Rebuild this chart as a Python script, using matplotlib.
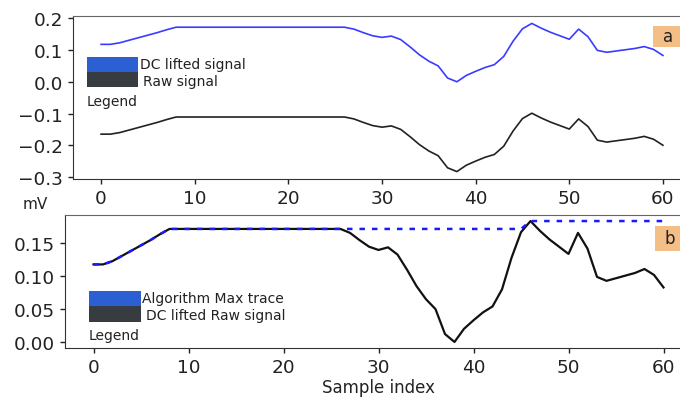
import matplotlib.pyplot as plt
from matplotlib.patches import Rectangle
import numpy as np

# sample index 0..60
sample_index = np.arange(61)

# DC lifted signal (mV)
dc_lifted = np.array([
    0.118, 0.118, 0.123, 0.131, 0.139, 0.147, 0.155, 0.164, 0.172, 0.172,
    0.172, 0.172, 0.172, 0.172, 0.172, 0.172, 0.172, 0.172, 0.172, 0.172,
    0.172, 0.172, 0.172, 0.172, 0.172, 0.172, 0.172, 0.166, 0.155, 0.145,
    0.140, 0.144, 0.133, 0.110, 0.085, 0.065, 0.050, 0.012, 0.000, 0.020,
    0.033, 0.045, 0.054, 0.080, 0.128, 0.167, 0.184, 0.169, 0.156, 0.145,
    0.134, 0.166, 0.142, 0.099, 0.093, 0.097, 0.101, 0.105, 0.111, 0.102,
    0.083,
])
dc_offset = 0.283
raw_signal = dc_lifted - dc_offset
# max trace of the algorithm
max_trace = np.maximum.accumulate(dc_lifted)

top_legend = ["DC lifted signal", "Raw signal"]
bottom_legend = ["Algorithm Max trace", "DC lifted Raw signal"]

W, H = 680, 402
fig = plt.figure(figsize=(W / 100, H / 100), dpi=100)


def px_axes(left, top, right, bottom):
    return fig.add_axes([left / W, 1 - bottom / H, (right - left) / W, (bottom - top) / H])


def style(ax):
    ax.tick_params(labelsize=13.3, length=3.5, width=1, colors="#222222")
    for s in ["top", "left", "bottom"]:
        ax.spines[s].set_color("#333333")
    ax.spines["top"].set_color("#666666")
    ax.spines["right"].set_visible(False)
    ax.set_xticks([0, 10, 20, 30, 40, 50, 60])


# ---- panel a
ax1 = px_axes(73, 17, 691, 180)
ax1.plot(sample_index, dc_lifted, color="#3b3bff", lw=1.2)
ax1.plot(sample_index, raw_signal, color="#222222", lw=1.2)
ax1.set_yticks([0.2, 0.1, 0.0, -0.1, -0.2, -0.3])
style(ax1)

# ---- panel b
ax2 = px_axes(65, 216, 692, 349)
ax2.plot(sample_index, dc_lifted, color="#111111", lw=1.6)
ax2.plot(sample_index, max_trace, color="#1a1aff", lw=1.8, ls=(0, (2.2, 2.8)))
ax2.set_yticks([0.0, 0.05, 0.10, 0.15])
ax2.set_yticklabels(["0.00", "0.05", "0.10", "0.15"])
ax2.set_xlabel("Sample index", fontsize=12, color="#222222", labelpad=2)
style(ax2)

fig.text(35 / W, 1 - 205 / H, "mV", fontsize=11, ha="center", va="center", color="#222222")


# ---- hand made legends
def legend_block(x0, y0, x1, ymid, y1, labels, txt_x, txt_y, leg_y):
    fig.add_artist(Rectangle((x0 / W, 1 - ymid / H), (x1 - x0) / W, (ymid - y0) / H,
                             transform=fig.transFigure, facecolor="#2b5fd2", edgecolor="none"))
    fig.add_artist(Rectangle((x0 / W, 1 - y1 / H), (x1 - x0) / W, (y1 - ymid) / H,
                             transform=fig.transFigure, facecolor="#363c40", edgecolor="none"))
    for lab, tx, ty in zip(labels, txt_x, txt_y):
        fig.text(tx / W, 1 - ty / H, lab, fontsize=10, ha="left", va="center", color="#222222")
    fig.text(x0 / W, 1 - leg_y / H, "Legend", fontsize=10, ha="left", va="center", color="#222222")


legend_block(87, 58, 138, 72.5, 87.5, top_legend, [140, 143], [65, 82], 102)
legend_block(89, 292, 141, 307, 322.5, bottom_legend, [142, 146], [299.5, 316.5], 336)


# ---- panel tags
def tag(x0, y0, y1, letter):
    fig.add_artist(Rectangle((x0 / W, 1 - y1 / H), (690 - x0) / W, (y1 - y0) / H,
                             transform=fig.transFigure, facecolor="#f4bf86", edgecolor="none"))
    fig.text((x0 + 15) / W, 1 - (y0 + y1) / 2 / H, letter, fontsize=12,
             ha="center", va="center", color="#222222")


tag(653, 27, 48, "a")
tag(655, 227, 252, "b")

fig.savefig("out.png", dpi=100)
